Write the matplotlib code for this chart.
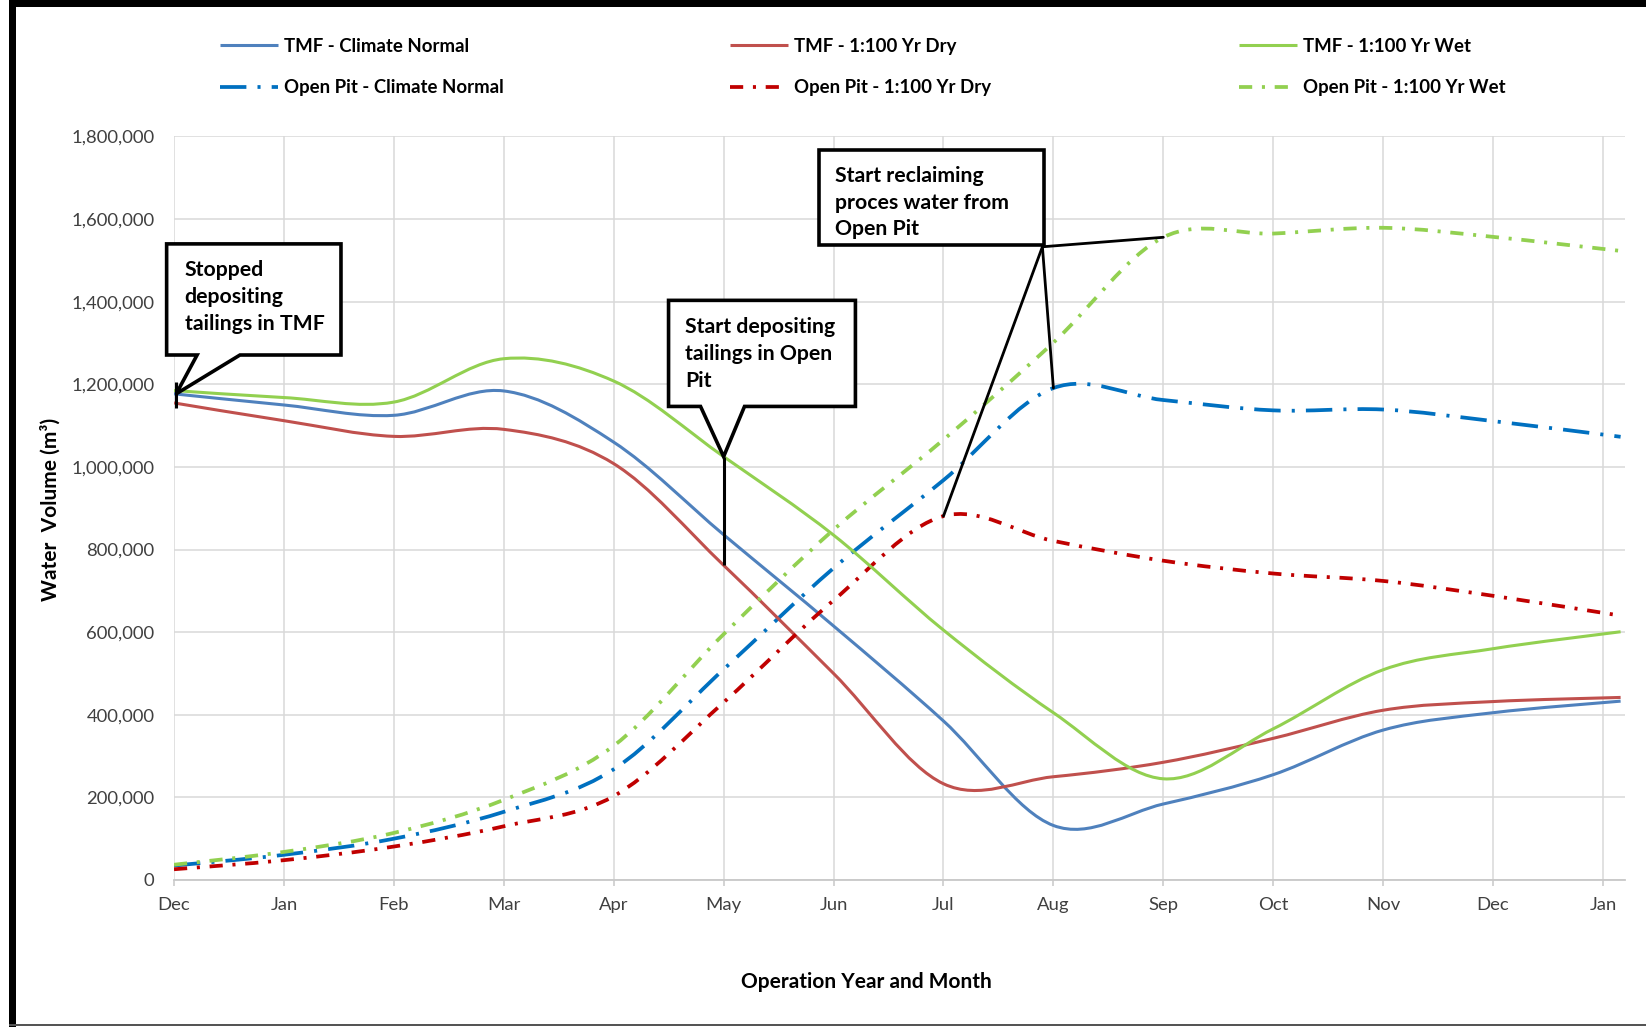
import numpy as np
import matplotlib
matplotlib.use("Agg")
import matplotlib.pyplot as plt
from matplotlib.path import Path
from matplotlib.patches import PathPatch, Polygon, Rectangle
from matplotlib.lines import Line2D
from matplotlib.ticker import StrMethodFormatter, MultipleLocator

plt.rcParams['font.family'] = ['Lato', 'DejaVu Sans']
plt.rcParams['lines.scale_dashes'] = False

# ---------------- data ----------------
month_labels = ['Dec', 'Jan', 'Feb', 'Mar', 'Apr', 'May', 'Jun', 'Jul',
                'Aug', 'Sep', 'Oct', 'Nov', 'Dec', 'Jan']
# position of each monthly data point on the month axis (last record a few days into Jan)
data_pos = [0, 1, 2, 3, 4, 5, 6, 7, 8, 9, 10, 11, 12, 13.16]

tmf_normal = [1177000, 1150000, 1125000, 1184000, 1060000, 836000, 615000,
              385000, 132000, 184000, 255000, 363000, 405000, 433000]
tmf_dry = [1155000, 1112000, 1074000, 1091000, 1008000, 762000, 500000,
           233000, 250000, 285000, 343000, 411000, 432000, 442000]
tmf_wet = [1185000, 1168000, 1157000, 1262000, 1208000, 1025000, 835000,
           605000, 405000, 245000, 366000, 509000, 560000, 601000]
pit_normal = [35000, 61000, 100000, 165000, 268000, 510000, 755000,
              968000, 1191000, 1162000, 1137000, 1139000, 1111000, 1073000]
pit_dry = [26000, 48000, 81000, 130000, 203000, 430000, 677000,
           881000, 821000, 773000, 742000, 724000, 688000, 640000]
pit_wet = [37000, 68000, 114000, 194000, 325000, 595000, 848000,
           1066000, 1301000, 1556000, 1565000, 1579000, 1557000, 1523000]

series_labels = ['TMF - Climate Normal', 'Open Pit - Climate Normal',
                 'TMF - 1:100 Yr Dry', 'Open Pit - 1:100 Yr Dry',
                 'TMF - 1:100 Yr Wet', 'Open Pit - 1:100 Yr Wet']

# ---------------- styles ----------------
C_TMF_N, C_TMF_D, C_TMF_W = '#4F81BD', '#C0504D', '#92D050'
C_PIT_N, C_PIT_D, C_PIT_W = '#0070C0', '#C00000', '#92D050'
LONG_DD = (0, (19, 8, 2.2, 8))
DD = (0, (9.5, 7, 2.2, 7))

styles = [
    (tmf_normal, C_TMF_N, '-', 2.2),
    (pit_normal, C_PIT_N, LONG_DD, 2.7),
    (tmf_dry, C_TMF_D, '-', 2.2),
    (pit_dry, C_PIT_D, DD, 2.7),
    (tmf_wet, C_TMF_W, '-', 2.2),
    (pit_wet, C_PIT_W, DD, 2.7),
]

W, H = 1646, 1027
fig = plt.figure(figsize=(W / 100, H / 100), dpi=100)
ax = fig.add_axes([174 / W, 1 - 880 / H, (1625 - 174) / W, (880 - 136.5) / H])


def smooth_path(xs, ys):
    pts = np.column_stack([np.asarray(xs, float), np.asarray(ys, float)])
    n = len(pts)
    verts = [pts[0]]
    codes = [Path.MOVETO]
    for i in range(n - 1):
        p0 = pts[i - 1] if i > 0 else pts[i]
        p1, p2 = pts[i], pts[i + 1]
        p3 = pts[i + 2] if i + 2 < n else pts[i + 1]
        verts += [p1 + (p2 - p0) / 6.0, p2 - (p3 - p1) / 6.0, p2]
        codes += [Path.CURVE4] * 3
    return Path(verts, codes)


handles = []
for (vals, col, ls, lw), lab in zip(styles, series_labels):
    patch = PathPatch(smooth_path(data_pos, vals), fill=False, edgecolor=col,
                      linewidth=lw, linestyle=ls, capstyle='butt',
                      joinstyle='round', zorder=3)
    ax.add_patch(patch)
    handles.append(Line2D([], [], color=col, lw=lw, linestyle=ls,
                          dash_capstyle='butt', solid_capstyle='butt', label=lab))

ax.set_xlim(0, 13.2)
ax.set_ylim(0, 1800000)
ax.set_xticks(range(len(month_labels)))
ax.set_xticklabels(month_labels)
ax.yaxis.set_major_locator(MultipleLocator(200000))
ax.yaxis.set_major_formatter(StrMethodFormatter('{x:,.0f}'))
ax.grid(True, color='#D9D9D9', linewidth=1.1, zorder=0)
ax.set_axisbelow(True)
for s in ['top', 'right', 'left']:
    ax.spines[s].set_visible(False)
ax.spines['bottom'].set_color('#C8C8C8')
ax.spines['bottom'].set_linewidth(1.3)
ax.tick_params(axis='x', direction='out', length=4, width=1.1, color='#C8C8C8',
               labelsize=13.3, labelcolor='#404040', pad=8)
ax.tick_params(axis='y', length=0, labelsize=13.3, labelcolor='#404040', pad=14)

fig.text(50 / W, 1 - 509 / H, 'Water  Volume (m³)', rotation=90, ha='center',
         va='center', fontsize=15, fontweight='bold')
fig.text(866 / W, 1 - 982 / H, 'Operation Year and Month', ha='center',
         va='center', fontsize=15, fontweight='bold')

# ---------------- legend (3 columns x 2 rows) ----------------
col_x = [220, 730, 1239]
for k in range(3):
    leg = fig.legend(handles=handles[2 * k:2 * k + 2], loc='upper left',
                     bbox_to_anchor=(col_x[k] / W, 1 - 38 / H), frameon=False,
                     borderpad=0, borderaxespad=0, handlelength=3.1,
                     handletextpad=0.35, labelspacing=1.3,
                     prop={'size': 13.4, 'weight': 'bold'})

# ---------------- callouts ----------------
BOX_LW = 2.6
FS_BOX = 15.3
common = dict(closed=True, facecolor='white', edgecolor='black',
              linewidth=BOX_LW, joinstyle='miter', clip_on=False, zorder=6)

# 1: Stopped depositing tailings in TMF
tip1 = (0.02, tmf_normal[0])
poly1 = [(-0.067, 1540000), (1.519, 1540000), (1.519, 1271000), (0.60, 1271000),
         tip1, (0.21, 1271000), (-0.067, 1271000)]
ax.add_patch(Polygon(poly1, **common))
ax.plot([0.02, 0.02], [1143000, 1206000], color='black', lw=2.2, zorder=7,
        clip_on=False, solid_capstyle='butt')
ax.text(0.096, 1411000, 'Stopped\ndepositing\ntailings in TMF', ha='left',
        va='center', fontsize=FS_BOX, fontweight='bold', linespacing=1.42, zorder=8)

# 2: Start depositing tailings in Open Pit
tip2 = (5, tmf_wet[5])
poly2 = [(4.499, 1403300), (6.199, 1403300), (6.199, 1146500), (5.19, 1146500),
         tip2, (4.79, 1146500), (4.499, 1146500)]
ax.add_patch(Polygon(poly2, **common))
ax.plot([5, 5], [tmf_wet[5], tmf_dry[5]], color='black', lw=2.2, zorder=7,
        solid_capstyle='butt')
ax.text(4.651, 1273700, 'Start depositing\ntailings in Open\nPit', ha='left',
        va='center', fontsize=FS_BOX, fontweight='bold', linespacing=1.42, zorder=8)

# 3: Start reclaiming process water from Open Pit
poly3 = [(5.864, 1767000), (7.918, 1767000), (7.918, 1538000), (5.864, 1538000)]
ax.add_patch(Polygon(poly3, **common))
corner = (7.9, 1533000)
for px, py in [(7, pit_dry[7]), (8, pit_normal[8]), (9, pit_wet[9])]:
    ax.plot([corner[0], px], [corner[1], py], color='black', lw=2.0, zorder=7,
            solid_capstyle='round')
ax.text(6.017, 1639800, 'Start reclaiming\nproces water from\nOpen Pit', ha='left',
        va='center', fontsize=FS_BOX, fontweight='bold', linespacing=1.42, zorder=8)

# ---------------- figure frame ----------------
fig.add_artist(Rectangle((9 / W, 1 - 7 / H), 1, 7 / H, transform=fig.transFigure,
                         facecolor='black', edgecolor='none'))
fig.add_artist(Rectangle((9 / W, 0), 7 / W, 1, transform=fig.transFigure,
                         facecolor='black', edgecolor='none'))
fig.add_artist(Rectangle((9 / W, 1 / H), 1, 2 / H, transform=fig.transFigure,
                         facecolor='#555555', edgecolor='none'))

fig.savefig('out.png', dpi=100, facecolor='white')
